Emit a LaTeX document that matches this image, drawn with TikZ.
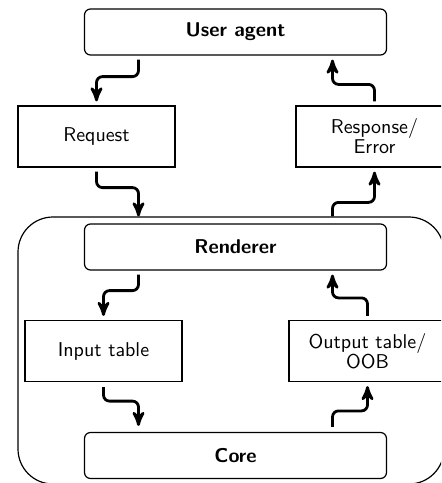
\documentclass[tikz,border=0pt]{standalone}
\usepackage{tikz}
\usetikzlibrary{arrows}

\begin{document}
\begin{tikzpicture}[x=0.5pt,y=-0.5pt,>=stealth',
    every node/.style={font=\sffamily},
    bigbox/.style={draw=black,line width=0.6pt,rounded corners=3pt,minimum width=151pt,minimum height=23pt,font=\sffamily\bfseries},
    smallbox/.style={draw=black,line width=0.6pt,minimum width=78.5pt,minimum height=30.5pt,align=center,inner sep=2pt},
    frame/.style={draw=black,line width=0.6pt,rounded corners=17.5pt,minimum width=213pt,minimum height=133.5pt},
    flow/.style={->,line width=1.4pt,rounded corners=3pt}]
    \useasboundingbox (0,0) rectangle (441,483);
    \clip (0,0) rectangle (441,483);

    % outer frame round the renderer and the core
    \node[frame]    (frame) at (231,350.5)    {};

    \node[bigbox]   (ua)    at (235.5,32)     {User agent};
    \node[smallbox] (req)   at (96.5,136.5)   {Request};
    \node[smallbox] (resp)  at (374.5,136.5)  {Response/\\[-2pt]Error};
    \node[bigbox]   (rend)  at (235.5,247)    {Renderer};
    \node[smallbox] (inp)   at (103.5,351)    {Input table};
    \node[smallbox] (outp)  at (367.5,351)    {Output table/\\[-2pt]OOB};
    \node[bigbox]   (core)  at (235.5,455.5)  {Core};

    % where the arrows cross the frame
    \coordinate (rin)  at ([xshift=-48.5pt]rend.north);
    \coordinate (rout) at ([xshift=48.5pt]rend.north);

    \draw[flow] ([xshift=-48.5pt,yshift=-2pt]ua.south) -- ++(0,-8.5pt) -| ([yshift=2pt]req.north);
    \draw[flow] ([yshift=2pt]resp.north) -- ++(0,8.5pt) -| ([xshift=48.5pt,yshift=-2pt]ua.south);
    \draw[flow] ([yshift=-2pt]req.south) -- ++(0,-8pt) -| (rin |- frame.north);
    \draw[flow] (rout |- frame.north) -- ++(0,7pt) -| ([yshift=-2pt]resp.south);
    \draw[flow] ([xshift=-48.5pt,yshift=-2pt]rend.south) -- ++(0,-8pt) -| ([yshift=2pt]inp.north);
    \draw[flow] ([yshift=2pt]outp.north) -- ++(0,9pt) -| ([xshift=48.5pt,yshift=-2pt]rend.south);
    \draw[flow] ([yshift=-2.5pt]inp.south) -- ++(0,-7pt) -| ([xshift=-48.5pt,yshift=3pt]core.north);
    \draw[flow] ([xshift=48.5pt,yshift=2.5pt]core.north) -- ++(0,8pt) -| ([yshift=-2pt]outp.south);
\end{tikzpicture}
\end{document}
